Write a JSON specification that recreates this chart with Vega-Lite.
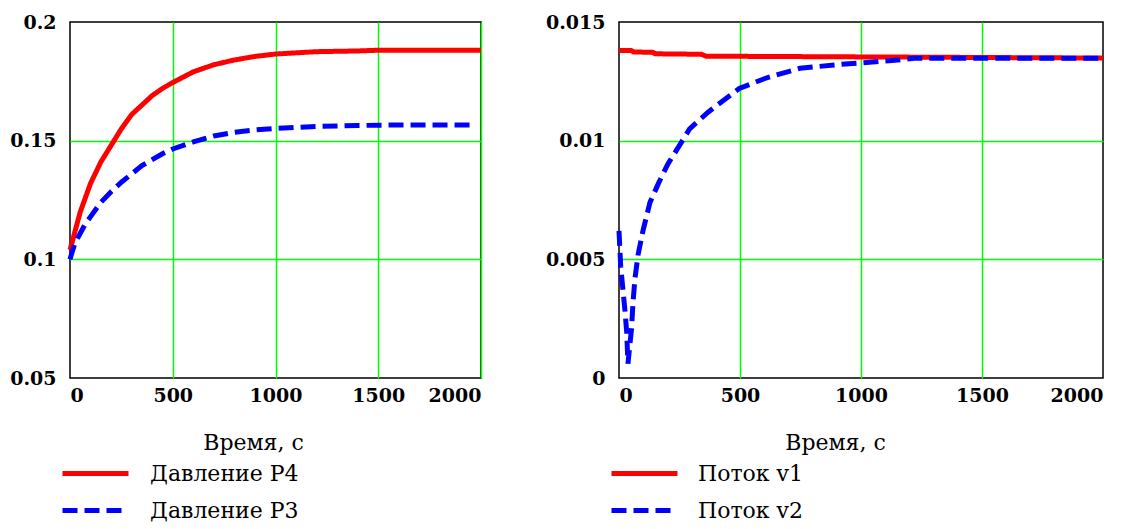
{
  "$schema": "https://vega.github.io/schema/vega-lite/v6.json",
  "padding": {"left": 8, "top": 12, "right": 5, "bottom": 5},
  "background": "white",
  "spacing": 52,
  "config": {
    "font": "DejaVu Serif",
    "view": {"stroke": "black", "strokeWidth": 1.5},
    "axis": {
      "domain": false,
      "ticks": false,
      "tickSize": 0,
      "grid": true,
      "gridColor": "#00ff00",
      "gridWidth": 1.5,
      "labelFont": "DejaVu Serif",
      "labelFontWeight": "bold",
      "labelFontSize": 19,
      "labelColor": "black",
      "titleFont": "DejaVu Serif",
      "titleFontWeight": "normal",
      "titleFontSize": 22,
      "titleColor": "black"
    },
    "legend": {
      "labelFont": "DejaVu Serif",
      "labelFontSize": 22,
      "labelColor": "black",
      "labelLimit": 400,
      "padding": 0
    }
  },
  "datasets": {
    "pressure": [
      {"t": 0, "v": 0.104, "series": "Давление P4"},
      {"t": 10, "v": 0.107, "series": "Давление P4"},
      {"t": 25, "v": 0.112, "series": "Давление P4"},
      {"t": 50, "v": 0.12, "series": "Давление P4"},
      {"t": 75, "v": 0.126, "series": "Давление P4"},
      {"t": 100, "v": 0.132, "series": "Давление P4"},
      {"t": 150, "v": 0.141, "series": "Давление P4"},
      {"t": 200, "v": 0.148, "series": "Давление P4"},
      {"t": 250, "v": 0.155, "series": "Давление P4"},
      {"t": 300, "v": 0.161, "series": "Давление P4"},
      {"t": 350, "v": 0.165, "series": "Давление P4"},
      {"t": 400, "v": 0.169, "series": "Давление P4"},
      {"t": 450, "v": 0.172, "series": "Давление P4"},
      {"t": 500, "v": 0.1745, "series": "Давление P4"},
      {"t": 600, "v": 0.179, "series": "Давление P4"},
      {"t": 700, "v": 0.182, "series": "Давление P4"},
      {"t": 800, "v": 0.184, "series": "Давление P4"},
      {"t": 900, "v": 0.1855, "series": "Давление P4"},
      {"t": 1000, "v": 0.1865, "series": "Давление P4"},
      {"t": 1100, "v": 0.187, "series": "Давление P4"},
      {"t": 1200, "v": 0.1875, "series": "Давление P4"},
      {"t": 1400, "v": 0.1878, "series": "Давление P4"},
      {"t": 1500, "v": 0.1881, "series": "Давление P4"},
      {"t": 1700, "v": 0.1881, "series": "Давление P4"},
      {"t": 2000, "v": 0.1881, "series": "Давление P4"},
      {"t": 0, "v": 0.1, "series": "Давление P3"},
      {"t": 10, "v": 0.103, "series": "Давление P3"},
      {"t": 25, "v": 0.107, "series": "Давление P3"},
      {"t": 50, "v": 0.111, "series": "Давление P3"},
      {"t": 75, "v": 0.115, "series": "Давление P3"},
      {"t": 100, "v": 0.118, "series": "Давление P3"},
      {"t": 150, "v": 0.124, "series": "Давление P3"},
      {"t": 200, "v": 0.1285, "series": "Давление P3"},
      {"t": 250, "v": 0.1325, "series": "Давление P3"},
      {"t": 300, "v": 0.136, "series": "Давление P3"},
      {"t": 350, "v": 0.1395, "series": "Давление P3"},
      {"t": 400, "v": 0.142, "series": "Давление P3"},
      {"t": 450, "v": 0.1445, "series": "Давление P3"},
      {"t": 500, "v": 0.1465, "series": "Давление P3"},
      {"t": 600, "v": 0.1495, "series": "Давление P3"},
      {"t": 700, "v": 0.152, "series": "Давление P3"},
      {"t": 800, "v": 0.1535, "series": "Давление P3"},
      {"t": 900, "v": 0.1545, "series": "Давление P3"},
      {"t": 1000, "v": 0.1552, "series": "Давление P3"},
      {"t": 1200, "v": 0.156, "series": "Давление P3"},
      {"t": 1400, "v": 0.1564, "series": "Давление P3"},
      {"t": 1600, "v": 0.1566, "series": "Давление P3"},
      {"t": 1970, "v": 0.1566, "series": "Давление P3"}
    ],
    "flow": [
      {"t": 0, "v": 0.0138, "series": "Поток v1"},
      {"t": 50, "v": 0.0138, "series": "Поток v1"},
      {"t": 60, "v": 0.01374, "series": "Поток v1"},
      {"t": 140, "v": 0.01372, "series": "Поток v1"},
      {"t": 150, "v": 0.01366, "series": "Поток v1"},
      {"t": 340, "v": 0.01364, "series": "Поток v1"},
      {"t": 360, "v": 0.01356, "series": "Поток v1"},
      {"t": 1200, "v": 0.01352, "series": "Поток v1"},
      {"t": 2000, "v": 0.01348, "series": "Поток v1"},
      {"t": 0, "v": 0.0062, "series": "Поток v2"},
      {"t": 7, "v": 0.0047, "series": "Поток v2"},
      {"t": 25, "v": 0.0028, "series": "Поток v2"},
      {"t": 32, "v": 0.0019, "series": "Поток v2"},
      {"t": 37, "v": 0.0006, "series": "Поток v2"},
      {"t": 52, "v": 0.0021, "series": "Поток v2"},
      {"t": 58, "v": 0.0032, "series": "Поток v2"},
      {"t": 66, "v": 0.0042, "series": "Поток v2"},
      {"t": 79, "v": 0.0052, "series": "Поток v2"},
      {"t": 99, "v": 0.0062, "series": "Поток v2"},
      {"t": 128, "v": 0.0074, "series": "Поток v2"},
      {"t": 163, "v": 0.0082, "series": "Поток v2"},
      {"t": 201, "v": 0.009, "series": "Поток v2"},
      {"t": 262, "v": 0.01, "series": "Поток v2"},
      {"t": 292, "v": 0.0105, "series": "Поток v2"},
      {"t": 368, "v": 0.0112, "series": "Поток v2"},
      {"t": 497, "v": 0.0122, "series": "Поток v2"},
      {"t": 611, "v": 0.01265, "series": "Поток v2"},
      {"t": 748, "v": 0.01305, "series": "Поток v2"},
      {"t": 900, "v": 0.0132, "series": "Поток v2"},
      {"t": 1004, "v": 0.01328, "series": "Поток v2"},
      {"t": 1128, "v": 0.01338, "series": "Поток v2"},
      {"t": 1220, "v": 0.01347, "series": "Поток v2"},
      {"t": 1500, "v": 0.01347, "series": "Поток v2"},
      {"t": 2000, "v": 0.01347, "series": "Поток v2"}
    ]
  },
  "resolve": {"scale": {"color": "independent", "strokeDash": "independent"}},
  "hconcat": [
    {
      "width": 411,
      "height": 356,
      "data": {"name": "pressure"},
      "mark": {"type": "line", "strokeWidth": 5, "interpolate": "linear"},
      "encoding": {
        "x": {
          "field": "t", "type": "quantitative",
          "scale": {"domain": [0, 2000], "nice": false},
          "axis": {
            "values": [0, 500, 1000, 1500, 2000],
            "format": "d",
            "labelPadding": 8,
            "title": "Время, с",
            "titleX": 183, "titleY": 71,
            "titleAlign": "center", "titleBaseline": "alphabetic",
            "gridOpacity": {"condition": {"test": "datum.value === 0", "value": 0}, "value": 1}
          }
        },
        "y": {
          "field": "v", "type": "quantitative",
          "scale": {"domain": [0.05, 0.2], "nice": false, "zero": false},
          "axis": {
            "values": [0.05, 0.1, 0.15, 0.2],
            "labelExpr": "datum.value === 0.05 ? '0.05' : datum.value === 0.1 ? '0.1' : datum.value === 0.15 ? '0.15' : '0.2'",
            "labelPadding": 14,
            "title": null,
            "gridOpacity": {"condition": {"test": "datum.value < 0.06 || datum.value > 0.19", "value": 0}, "value": 1}
          }
        },
        "color": {
          "field": "series", "type": "nominal",
          "scale": {"domain": ["Давление P4", "Давление P3"], "range": ["#ff0000", "#0000ff"]},
          "legend": {
            "title": null, "orient": "none", "legendX": 12, "legendY": 438,
            "symbolType": "M-3,0H3", "symbolSize": 484, "symbolStrokeWidth": 5,
            "labelOffset": 41, "rowPadding": 12
          }
        },
        "strokeDash": {
          "field": "series", "type": "nominal",
          "scale": {"domain": ["Давление P4", "Давление P3"], "range": [[1, 0], [15, 7]]},
          "legend": {
            "title": null, "orient": "none", "legendX": 12, "legendY": 438,
            "symbolType": "M-3,0H3", "symbolSize": 484, "symbolStrokeWidth": 5,
            "labelOffset": 41, "rowPadding": 12
          }
        }
      }
    },
    {
      "width": 484,
      "height": 356,
      "data": {"name": "flow"},
      "mark": {"type": "line", "strokeWidth": 5, "interpolate": "linear"},
      "encoding": {
        "x": {
          "field": "t", "type": "quantitative",
          "scale": {"domain": [0, 2000], "nice": false},
          "axis": {
            "values": [0, 500, 1000, 1500, 2000],
            "format": "d",
            "labelPadding": 8,
            "title": "Время, с",
            "titleX": 216, "titleY": 71,
            "titleAlign": "center", "titleBaseline": "alphabetic",
            "gridOpacity": {"condition": {"test": "datum.value === 0 || datum.value === 2000", "value": 0}, "value": 1}
          }
        },
        "y": {
          "field": "v", "type": "quantitative",
          "scale": {"domain": [0, 0.015], "nice": false},
          "axis": {
            "values": [0, 0.005, 0.01, 0.015],
            "labelExpr": "datum.value === 0 ? '0' : datum.value === 0.005 ? '0.005' : datum.value === 0.01 ? '0.01' : '0.015'",
            "labelPadding": 14,
            "title": null,
            "gridOpacity": {"condition": {"test": "datum.value < 0.001 || datum.value > 0.014", "value": 0}, "value": 1}
          }
        },
        "color": {
          "field": "series", "type": "nominal",
          "scale": {"domain": ["Поток v1", "Поток v2"], "range": ["#ff0000", "#0000ff"]},
          "legend": {
            "title": null, "orient": "none", "legendX": 12, "legendY": 438,
            "symbolType": "M-3,0H3", "symbolSize": 484, "symbolStrokeWidth": 5,
            "labelOffset": 40, "rowPadding": 12
          }
        },
        "strokeDash": {
          "field": "series", "type": "nominal",
          "scale": {"domain": ["Поток v1", "Поток v2"], "range": [[1, 0], [15, 7]]},
          "legend": {
            "title": null, "orient": "none", "legendX": 12, "legendY": 438,
            "symbolType": "M-3,0H3", "symbolSize": 484, "symbolStrokeWidth": 5,
            "labelOffset": 40, "rowPadding": 12
          }
        }
      }
    }
  ]
}
